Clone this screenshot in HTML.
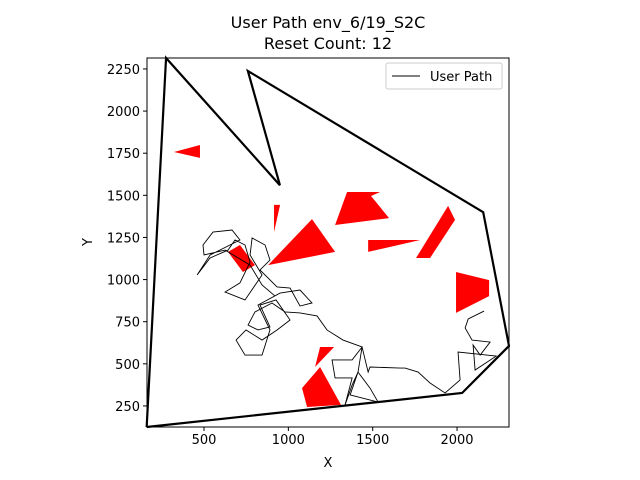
<!DOCTYPE html>
<html><head><meta charset="utf-8"><style>body{margin:0;background:#fff}svg{display:block;font-family:"DejaVu Sans","Liberation Sans",sans-serif}</style></head>
<body>
<svg id="chart" width="640" height="480" viewBox="0 0 640 480">
<rect width="640" height="480" fill="#fff"/>
<text x="328" y="28" font-size="16" text-anchor="middle">User Path env_6/19_S2C</text>
<text x="328" y="49" font-size="16" text-anchor="middle">Reset Count: 12</text>
<g id="plot"></g>
<text x="328" y="467" font-size="13" text-anchor="middle">X</text>
<text x="92" y="242" font-size="13" text-anchor="middle" transform="rotate(-90 92 242)">Y</text>
<g>
<rect x="386" y="63" width="116" height="26" fill="#fff" stroke="#ccc" rx="2"/>
<line x1="392" y1="76" x2="420" y2="76" stroke="#000" stroke-width="1"/>
<text x="430" y="81" font-size="13">User Path</text>
</g>
</svg>
<script>
const xTicks=[500,1000,1500,2000];
const yTicks=[250,500,750,1000,1250,1500,1750,2000,2250];
const boundaryX=[160,275,950,760,2155,2308,2030,160];
const boundaryY=[125,2315,1560,2238,1400,606,327,125];
const pathX=[2160,2066,2048,2089,2196,2137,2095,2107,2232,2006,2018,1929,1840,1769,1692,1662,1484,1473,1437,1378,1259,1277,1378,1336,1378,1413,1484,1532,1366,1413,1437,1324,1229,1170,1069,980,903,802,761,820,891,832,927,1010,933,844,749,690,743,844,891,820,951,1069,1140,1069,1010,933,832,891,862,785,773,844,743,625,713,773,743,684,642,536,459,536,713,666,553,494,500,625,773,844,921];
const pathY=[813,766,713,641,629,552,612,463,546,570,404,327,386,451,475,475,481,451,600,523,523,416,416,256,374,451,356,273,315,451,600,641,701,784,802,808,861,808,730,701,719,849,879,760,701,641,701,641,552,552,701,849,920,938,861,843,950,956,1057,1116,1205,1247,1146,1027,879,926,980,1104,1205,1235,1175,1128,1027,1146,1235,1294,1282,1205,1146,1175,1086,968,902];
const obstacles=[
 {x:[322,476,476],y:[1757,1799,1722]},
 {x:[915,951,915],y:[1443,1443,1282]},
 {x:[880,1140,1277],y:[1086,1359,1164]},
 {x:[642,713,802,731],y:[1164,1205,1086,1045]},
 {x:[1277,1348,1544,1490,1597],y:[1324,1520,1520,1496,1365]},
 {x:[1473,1473,1781],y:[1235,1164,1235]},
 {x:[1757,1947,1988,1840],y:[1128,1437,1354,1128]},
 {x:[1994,2190,2190,1994],y:[1045,997,902,802]},
 {x:[1158,1188,1271],y:[481,600,600]},
 {x:[1081,1188,1312,1111],y:[356,481,256,244]}
];
const L=147,R=509,T=58,B=427,X0=162,X1=2308,Y0=125,Y1=2315;
const sx=v=>L+(v-X0)/(X1-X0)*(R-L);
const sy=v=>B-(v-Y0)/(Y1-Y0)*(B-T);
const NS='http://www.w3.org/2000/svg';
const g=document.getElementById('plot');
function mk(t,a){const e=document.createElementNS(NS,t);for(const k in a)e.setAttribute(k,a[k]);g.appendChild(e);return e;}
obstacles.forEach((o,i)=>{
 const e=mk('polygon',{points:o.x.map((v,j)=>sx(v)+','+sy(o.y[j])).join(' '),fill:'#ff0000'});
 
 
});
const bd=mk('polyline',{points:boundaryX.map((v,j)=>sx(v)+','+sy(boundaryY[j])).join(' '),fill:'none',stroke:'#000','stroke-width':2.2,'stroke-linejoin':'miter'});


const up=mk('polyline',{points:pathX.map((v,j)=>sx(v)+','+sy(pathY[j])).join(' '),fill:'none',stroke:'#000','stroke-width':0.9});


const fr=mk('rect',{x:L,y:T,width:R-L,height:B-T,fill:'none',stroke:'#000','stroke-width':1});


xTicks.forEach(v=>{
 const x=sx(v);
 mk('line',{x1:x,y1:B,x2:x,y2:B+4,stroke:'#000'});
 const t=mk('text',{x:x,y:B+17,'font-size':13,'text-anchor':'middle'});t.textContent=v;
 
 
});
yTicks.forEach(v=>{
 const y=sy(v);
 mk('line',{x1:L-4,y1:y,x2:L,y2:y,stroke:'#000'});
 const t=mk('text',{x:L-7,y:y+5,'font-size':13,'text-anchor':'end'});t.textContent=v;
 
 
});
</script>
</body></html>
